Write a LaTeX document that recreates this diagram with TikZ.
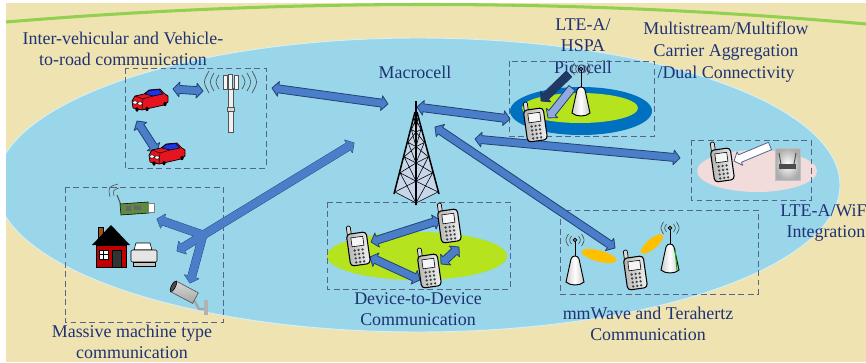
\documentclass[tikz,border=0pt]{standalone}
\usepackage{fontspec}
\setmainfont{Liberation Serif}
\usetikzlibrary{calc}

\definecolor{sand}{RGB}{239,228,177}
\definecolor{sky}{RGB}{153,214,233}
\definecolor{topgreen}{RGB}{146,208,80}
\definecolor{lime}{RGB}{181,227,30}
\definecolor{ringblue}{RGB}{0,112,192}
\definecolor{blush}{RGB}{242,219,219}
\definecolor{arrowfill}{RGB}{74,126,200}
\definecolor{arrowline}{RGB}{38,64,120}
\definecolor{darknavy}{RGB}{31,56,100}
\definecolor{paleblue}{RGB}{143,170,220}
\definecolor{txtblue}{RGB}{31,50,115}
\definecolor{boxline}{RGB}{85,100,135}
\definecolor{carred}{RGB}{230,20,30}
\definecolor{carblue}{RGB}{30,50,230}
\definecolor{housered}{RGB}{192,0,0}
\definecolor{chimney}{RGB}{160,80,30}
\definecolor{boardgreen}{RGB}{95,140,60}
\definecolor{towerfill}{RGB}{200,214,234}
\definecolor{beamorange}{RGB}{255,192,0}

\def\sw{3.4pt}\def\hw{6.3pt}\def\hl{5.5pt}

\tikzset{
  blockarrow/.style={fill=arrowfill, draw=arrowline, line width=0.7pt, line join=round},
  dbox/.style={draw=boxline, line width=0.8pt, dash pattern=on 5pt off 3pt},
  lbl/.style={text=txtblue, font=\fontsize{15.3}{18.5}\selectfont, align=center, inner sep=0pt},
  phone/.pic={
    \draw[fill=gray!30, line width=0.6pt, rounded corners=1pt] (-9,-12) -- (-9,-21) -- (-5,-21) -- (-5,-12);
    \shadedraw[left color=gray!60, right color=gray!10, draw=black, line width=0.9pt, rounded corners=3pt] (-10,-13) rectangle (10,19);
    \draw[fill=gray!8, line width=0.5pt] (-6,-9) rectangle (6,0);
    \foreach \i in {-4,0,4} \foreach \j in {4,8,12,16} \fill[black!75] (\i,\j) circle (1.1pt);
  },
  car/.pic={
    \draw[fill=carred, line width=0.6pt, line join=round] (-18,0) -- (-15,-5) -- (-6,-7) -- (-1,-11) -- (10,-12) -- (15,-7) -- (18,-5) -- (18,1) -- (14,4) -- (-8,9) -- (-17,7) -- cycle;
    \draw[fill=carblue, line width=0.5pt, line join=round] (-5,-7) -- (-1,-10.5) -- (9,-11.5) -- (13,-7) -- (3,-5) -- cycle;
    \draw[line width=0.4pt] (-15,-5) -- (-7,-2) -- (3,-5) (-7,-2) -- (-8,9);
    \draw[fill=white, line width=0.4pt] (-15,1.5) ellipse [x radius=2.4, y radius=1.7];
    \draw[fill=white, line width=0.4pt] (-10,2.5) ellipse [x radius=2.4, y radius=1.7];
    \fill[black] (-13,8.5) ellipse [x radius=1.6, y radius=2.2];
    \fill[black] (-3,8) ellipse [x radius=1.6, y radius=2.2];
    \fill[black] (15,3) ellipse [x radius=1.6, y radius=2.2];
  },
  cone/.pic={
    \shadedraw[left color=gray!40, right color=gray!45, middle color=white, draw=black, line width=0.8pt]
      (-9,12) -- (-4,-11) .. controls (-3,-15) and (3,-15) .. (4,-11) -- (9,12) .. controls (5,16) and (-5,16) .. cycle;
  },
  waves/.pic={
    \draw[gray!55!black, line width=0.5pt]
      (-3.5,-4) .. controls (-6,0) .. (-3.5,4) (3.5,-4) .. controls (6,0) .. (3.5,4)
      (-6.5,-6) .. controls (-10,0) .. (-6.5,6) (6.5,-6) .. controls (10,0) .. (6.5,6);
    \draw[fill=white, line width=0.6pt] (0,0) circle (1.6pt);
    \fill (0,0) circle (0.7pt);
  },
}

% block arrow with a head at both ends
\newcommand\twoway[3][]{%
  \draw[blockarrow,#1] let \p1=(#2), \p2=(#3),
      \n1={atan2(\y2-\y1,\x2-\x1)}, \n2={veclen(\x2-\x1,\y2-\y1)} in
    [shift={(\p1)}, rotate=\n1]
    (0pt,0pt) -- (\hl,\hw) -- (\hl,\sw) -- (\n2-\hl,\sw) -- (\n2-\hl,\hw)
    -- (\n2+0pt,0pt) -- (\n2-\hl,-\hw) -- (\n2-\hl,-\sw) -- (\hl,-\sw) -- (\hl,-\hw) -- cycle;}
% block arrow with a head at the far end only
\newcommand\oneway[3][]{%
  \draw[blockarrow,#1] let \p1=(#2), \p2=(#3),
      \n1={atan2(\y2-\y1,\x2-\x1)}, \n2={veclen(\x2-\x1,\y2-\y1)} in
    [shift={(\p1)}, rotate=\n1]
    (0pt,\sw) -- (\n2-\hl,\sw) -- (\n2-\hl,\hw)
    -- (\n2+0pt,0pt) -- (\n2-\hl,-\hw) -- (\n2-\hl,-\sw) -- (0pt,-\sw) -- cycle;}

\begin{document}
\begin{tikzpicture}[x=0.03cm, y=-0.03cm]
\useasboundingbox (0,0) rectangle (866,362);
\clip (0,0) rectangle (866,362);

% ground and coverage area
\fill[white] (0,0) rectangle (866,362);
\fill[sand] (6,3) rectangle (866,362);
\begin{scope}
  \clip (6,3) rectangle (866,362);
  \filldraw[fill=sky, draw=white!60!sky, line width=0.8pt] (418,185) ellipse [x radius=422, y radius=147];
\end{scope}
\draw[topgreen, line width=2.6pt] (6,22) .. controls (295,-2) and (582,-1.3) .. (866,24);

% small cell footprints
\fill[lime] (417,256) ellipse [x radius=90, y radius=24];
\fill[ringblue] (581,111) ellipse [x radius=71, y radius=24];
\fill[lime] (580,108) ellipse [x radius=58, y radius=15];
\fill[blush] (757,171) ellipse [x radius=60, y radius=21];
\fill[beamorange, rotate around={-15:(599,256)}] (599,256) ellipse [x radius=18, y radius=5.5];
\fill[beamorange, rotate around={40:(652,244)}] (652,244) ellipse [x radius=14, y radius=5];

% scenario frames
\draw[dbox] (125,68) rectangle (266,168);
\draw[dbox] (65,187) rectangle (223,322);
\draw[dbox] (327,202) rectangle (510,289);
\draw[dbox] (509,61) rectangle (654,136);
\draw[dbox] (691,140) rectangle (811,200);
\draw[dbox] (560,210) rectangle (758,294);

% macrocell tower
\fill[towerfill] (416,112) -- (395,192) -- (416,203) -- (438,192) -- cycle;
\foreach \a/\b in {0.08/0.22, 0.22/0.38, 0.38/0.56, 0.56/0.76, 0.76/1.0} {
  \draw[line width=0.5pt]
    ({416-21*\a},{112+80*\a}) -- (416,{112+91*\a}) -- ({416+22*\a},{112+80*\a})
    ({416-21*\a},{112+80*\a}) -- (416,{112+91*\b})
    (416,{112+91*\a}) -- ({416-21*\b},{112+80*\b})
    ({416+22*\a},{112+80*\a}) -- (416,{112+91*\b})
    (416,{112+91*\a}) -- ({416+22*\b},{112+80*\b});
}
\draw[line width=0.5pt] (395,192) -- (416,203) -- (438,192);
\draw[line width=1.3pt] (415,112) -- (394,194) (417,112) -- (439,194) (416,112) -- (416,205);
\draw[line width=2pt] (416,101) -- (416,122);
\coordinate (macro) at (416,150);

% named anchor points of the links
\coordinate (carA-e) at (173,89);   \coordinate (rsu-w) at (203,91);
\coordinate (carA-s) at (137,121);  \coordinate (carB-n) at (157,152);
\coordinate (v2v-e) at (272,88);    \coordinate (macro-nw) at (388,104);
\coordinate (macro-ne) at (417,107); \coordinate (pico-ue) at (510,119);
\coordinate (macro-e) at (475,139); \coordinate (wifi-ue) at (680,158);
\coordinate (macro-se) at (435,127); \coordinate (mm-ue) at (615,248);
\coordinate (macro-sw) at (354,143); \coordinate (mtc-printer) at (177,251);
\coordinate (fork) at (203,235);    \coordinate (mtc-sensor) at (157,219);
\coordinate (mtc-camera) at (190,283);
\coordinate (d1-a) at (371,242);    \coordinate (d2-a) at (440,220);
\coordinate (d1-b) at (370,257);    \coordinate (d3-a) at (420,280);
\coordinate (d3-b) at (441,264);    \coordinate (d2-b) at (459,247);
\coordinate (pico-a) at (569,74);   \coordinate (pico-ue-a) at (541,101);
\coordinate (pico-b) at (572,88);   \coordinate (pico-ue-b) at (548,118);
\coordinate (ap-w) at (770,146);    \coordinate (wifi-ue-e) at (734,161);

% links
\twoway{carA-e}{rsu-w}
\twoway{carA-s}{carB-n}
\twoway{v2v-e}{macro-nw}
\twoway{macro-ne}{pico-ue}
\twoway{macro-e}{wifi-ue}
\twoway{macro-se}{mm-ue}
\oneway{fork}{mtc-sensor}
\oneway{fork}{mtc-camera}
\twoway{macro-sw}{mtc-printer}
\oneway[draw=none]{fork}{mtc-sensor}
\oneway[draw=none]{fork}{mtc-camera}
\twoway[draw=none]{macro-sw}{mtc-printer}
\twoway{d1-a}{d2-a}
\twoway{d1-b}{d3-a}
\twoway{d3-b}{d2-b}
\oneway[fill=darknavy, draw=darknavy]{pico-a}{pico-ue-a}
\oneway[fill=paleblue, draw=arrowline]{pico-b}{pico-ue-b}
\oneway[fill=white, draw=arrowline!80]{ap-w}{wifi-ue-e}

% vehicles and roadside unit
\pic (carA) at (150,101) {car};
\pic (carB) at (167,155) {car};
\begin{scope}[gray!65!black, line width=0.6pt]
  \draw[fill=gray!12] (228,88) rectangle (233,132);
  \draw[fill=gray!30] (227,107) rectangle (234,111);
  \draw[fill=gray!8] (223,75) rectangle (227,89) (228.5,74) rectangle (232.5,89) (234,75) rectangle (238,89);
  \draw (219,75) .. controls (215,82) .. (219,89) (214,73) .. controls (209,82) .. (214,91)
        (209,71) .. controls (203,82) .. (209,93);
  \draw (242,75) .. controls (246,82) .. (242,89) (247,73) .. controls (252,82) .. (247,91)
        (252,71) .. controls (258,82) .. (252,93);
\end{scope}

% machine type devices
\begin{scope}[line width=0.5pt]
  % sensor board
  \draw[gray!60!black, line width=0.5pt] (114,196) .. controls (113,190) .. (119,188) (110,197) .. controls (108,187) .. (118,184);
  \draw[gray!60!black, line width=0.8pt] (117,195) -- (121,205);
  \draw[fill=boardgreen] (120,204) -- (148,202) -- (149,213) -- (121,215) -- cycle;
  \fill[black!60] (126,206) rectangle (131,211) (134,205.5) rectangle (141,210);
  \draw[fill=white, draw=gray] (148,203.5) rectangle (154,212);
  % house
  \draw[fill=chimney] (98,227) rectangle (103,240);
  \fill[black] (92,245) -- (111,225) -- (130,245) -- cycle;
  \draw[fill=housered, line width=0.8pt] (96,245) rectangle (126,267);
  \draw[fill=white, line width=0.6pt] (99,250) rectangle (108,259);
  \draw[line width=0.6pt] (103.5,250) -- (103.5,259) (99,254.5) -- (108,254.5);
  \draw[fill=gray!40!black] (112,250) rectangle (121,267);
  % printer
  \draw[fill=white] (136,243) -- (150,243) -- (152,250) -- (134,250) -- cycle;
  \draw[fill=gray!20, rounded corners=1pt] (131,250) rectangle (157,262);
  \draw[fill=gray!45] (133,262) rectangle (155,266);
  % camera
  \draw[gray!70, line width=2pt] (194,300) -- (199,309) -- (205,309);
  \fill[gray!60] (204,300) rectangle (208,315);
  \shadedraw[top color=gray!30, bottom color=gray!70, draw=gray!60!black, rotate around={-28:(184,292)}] (172,286) rectangle (197,298);
  \draw[fill=gray!60!black, rotate around={-28:(184,292)}] (172,292) ellipse [x radius=2, y radius=6];
\end{scope}

% handsets
\pic[rotate=8] (ue1) at (358,246) {phone};
\pic[rotate=8] (ue2) at (449,223) {phone};
\pic[rotate=8] (ue3) at (429,268) {phone};
\pic[rotate=8] (ue4) at (535,122) {phone};
\pic[rotate=8] (ue5) at (722,162) {phone};
\pic[rotate=8] (ue6) at (635,270) {phone};

% access point
\shade[inner color=white, outer color=gray!65] (775,148) rectangle (800,180);
\draw[gray!50, line width=0.4pt] (775,148) rectangle (800,180);
\fill[black!70] (779,164) rectangle (796,169);
\draw[black!70, line width=0.8pt] (781,164) -- (779,153) (794,164) -- (796,153);

% labels
\node[lbl] (v2vlbl) at (123,49) {Inter-vehicular and Vehicle-\\to-road communication};
\node[lbl] (macrolbl) at (415,72) {Macrocell};
\node[lbl] (picolbl) at (583,46) {LTE-A/\\HSPA\\Picocell};
\node[lbl] (calbl) at (726,52) {Multistream/Multiflow\\Carrier Aggregation\\/Dual Connectivity};
\node[lbl] (wifilbl) at (826,223) {LTE-A/WiFi\\Integration};
\node[lbl] (mmlbl) at (648,324) {mmWave and Terahertz\\Communication};
\node[lbl] (d2dlbl) at (418,309) {Device-to-Device\\Communication};
\node[lbl] (mtclbl) at (132,342) {Massive machine type\\communication};

% base stations of the small cells
\draw[line width=0.8pt] (581,87) -- (581,70);
\pic at (581,69) {waves};
\pic at (581,101) {cone};
\draw[line width=0.8pt] (575,257) -- (575,241);
\pic at (575,240) {waves};
\pic at (575,270) {cone};
\draw[line width=0.8pt] (670,244) -- (670,229);
\pic at (670,228) {waves};
\pic at (670,258) {cone};
\draw[green!70!black, line width=0.8pt] (675,249) -- (677,270);
\end{tikzpicture}
\end{document}
